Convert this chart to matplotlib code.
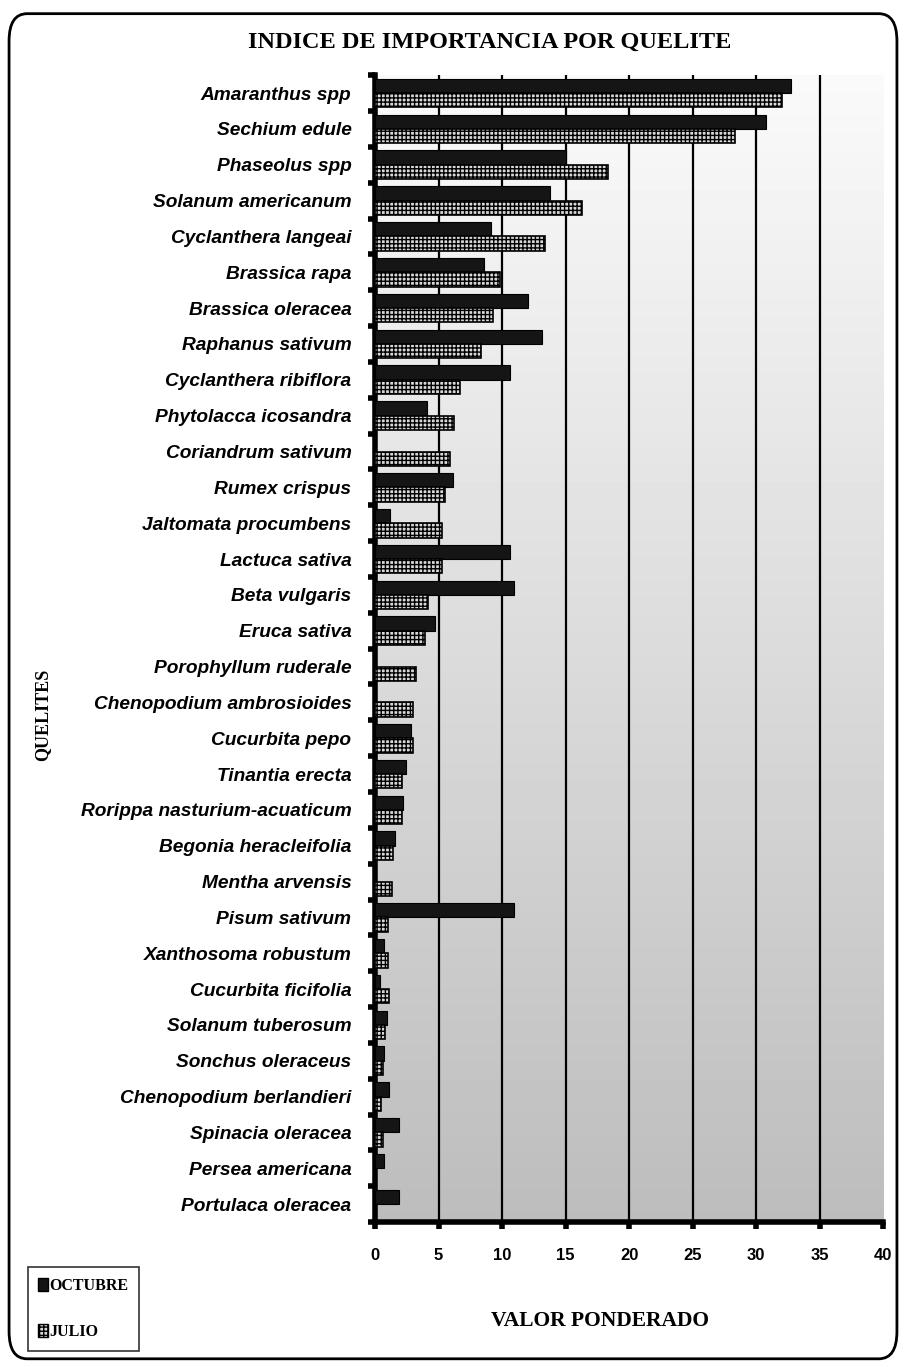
import matplotlib
matplotlib.use("Agg")
import matplotlib.pyplot as plt
import numpy as np
from matplotlib.patches import FancyBboxPatch, Patch

# Species, top to bottom as in the chart
quelites = [
    "Amaranthus spp", "Sechium edule", "Phaseolus spp", "Solanum americanum",
    "Cyclanthera langeai", "Brassica rapa", "Brassica oleracea", "Raphanus sativum",
    "Cyclanthera ribiflora", "Phytolacca icosandra", "Coriandrum sativum",
    "Rumex crispus", "Jaltomata procumbens", "Lactuca sativa", "Beta vulgaris",
    "Eruca sativa", "Porophyllum ruderale", "Chenopodium ambrosioides",
    "Cucurbita pepo", "Tinantia erecta", "Rorippa nasturium-acuaticum",
    "Begonia heracleifolia", "Mentha arvensis", "Pisum sativum",
    "Xanthosoma robustum", "Cucurbita ficifolia", "Solanum tuberosum",
    "Sonchus oleraceus", "Chenopodium berlandieri", "Spinacia oleracea",
    "Persea americana", "Portulaca oleracea",
]

octubre = [32.7, 30.8, 15.0, 13.8, 9.1, 8.6, 12.0, 13.1, 10.6, 4.1, 0.0,
           6.1, 1.2, 10.6, 10.9, 4.7, 0.0, 0.0, 2.8, 2.4, 2.2, 1.6, 0.0,
           10.9, 0.7, 0.4, 0.9, 0.7, 1.1, 1.9, 0.7, 1.9]
julio = [32.0, 28.3, 18.3, 16.3, 13.4, 9.8, 9.3, 8.3, 6.7, 6.2, 5.9,
         5.5, 5.3, 5.3, 4.2, 3.9, 3.2, 3.0, 3.0, 2.1, 2.1, 1.4, 1.3,
         1.0, 1.0, 1.1, 0.8, 0.6, 0.5, 0.6, 0.0, 0.0]

x_ticks = [0, 5, 10, 15, 20, 25, 30, 35, 40]


def main():
    fig = plt.figure(figsize=(9.06, 13.67), dpi=100)
    ax = fig.add_axes([0.414, 0.106, 0.561, 0.839])

    n = len(quelites)
    y = np.arange(n)

    # Speckled grey background, lighter at the top
    grad = np.linspace(0.98, 0.74, 200).reshape(-1, 1)
    ax.imshow(grad, cmap="gray", vmin=0, vmax=1, aspect="auto",
              extent=[0, 40, n - 0.5, -0.5], zorder=0)

    # Vertical grid lines
    for xv in x_ticks[1:-1]:
        ax.axvline(xv, color="black", lw=1.6, zorder=1)

    h = 0.4
    ax.barh(y - 0.2, octubre, height=h, color="#151515", edgecolor="black",
            lw=0.8, zorder=3, label="OCTUBRE")
    plt.rcParams["hatch.linewidth"] = 1.0
    ax.barh(y + 0.2, julio, height=h, color="#d8d8d8", edgecolor="black",
            hatch="++++", lw=1.2, zorder=3, label="JULIO")

    ax.set_xlim(0, 40)
    ax.set_ylim(n - 0.5, -0.5)
    ax.set_xticks(x_ticks)
    ax.set_xticklabels([str(t) for t in x_ticks], fontsize=12,
                       fontweight="bold", family="Liberation Sans")
    ax.set_yticks(y)
    ax.set_yticklabels(quelites, fontsize=13.8, fontweight="bold",
                       fontstyle="italic", family="Liberation Sans")
    ax.set_yticks(np.arange(n + 1) - 0.5, minor=True)
    ax.tick_params(axis="y", which="major", length=0, pad=17)
    ax.tick_params(axis="y", which="minor", length=5, width=4, color="black")
    ax.tick_params(axis="x", which="major", length=5, width=4, pad=14)

    for side in ("top", "right"):
        ax.spines[side].set_visible(False)
    ax.spines["left"].set_linewidth(4)
    ax.spines["bottom"].set_linewidth(4)

    fig.text(0.54, 0.969, "INDICE DE IMPORTANCIA POR QUELITE", ha="center",
             va="center", fontsize=17.5, fontweight="bold",
             family="Liberation Serif")
    fig.text(0.662, 0.034, "VALOR PONDERADO", ha="center", va="center",
             fontsize=15.5, fontweight="bold", family="Liberation Serif")
    fig.text(0.047, 0.477, "QUELITES", ha="center", va="center",
             rotation=90, fontsize=13, fontweight="bold",
             family="Liberation Serif")

    handles = [Patch(facecolor="#151515", edgecolor="black"),
               Patch(facecolor="#d8d8d8", edgecolor="black", hatch="++++")]
    leg = fig.legend(handles, ["OCTUBRE", "JULIO"], loc="lower left",
                     bbox_to_anchor=(0.031, 0.012), frameon=True, fancybox=False,
                     edgecolor="black", handlelength=0.6, handleheight=0.9,
                     handletextpad=0.1, labelspacing=1.9, borderpad=0.65,
                     borderaxespad=0,
                     prop={"family": "Liberation Serif", "weight": "bold",
                           "size": 11.5})
    leg.get_frame().set_linewidth(1.2)

    # Rounded outer border
    border = FancyBboxPatch((0.01, 0.006), 0.98, 0.984,
                            boxstyle="round,pad=0,rounding_size=0.02",
                            transform=fig.transFigure, fill=False,
                            edgecolor="black", lw=2.0)
    fig.patches.append(border)

    fig.savefig("out.png", dpi=100)


if __name__ == "__main__":
    main()
